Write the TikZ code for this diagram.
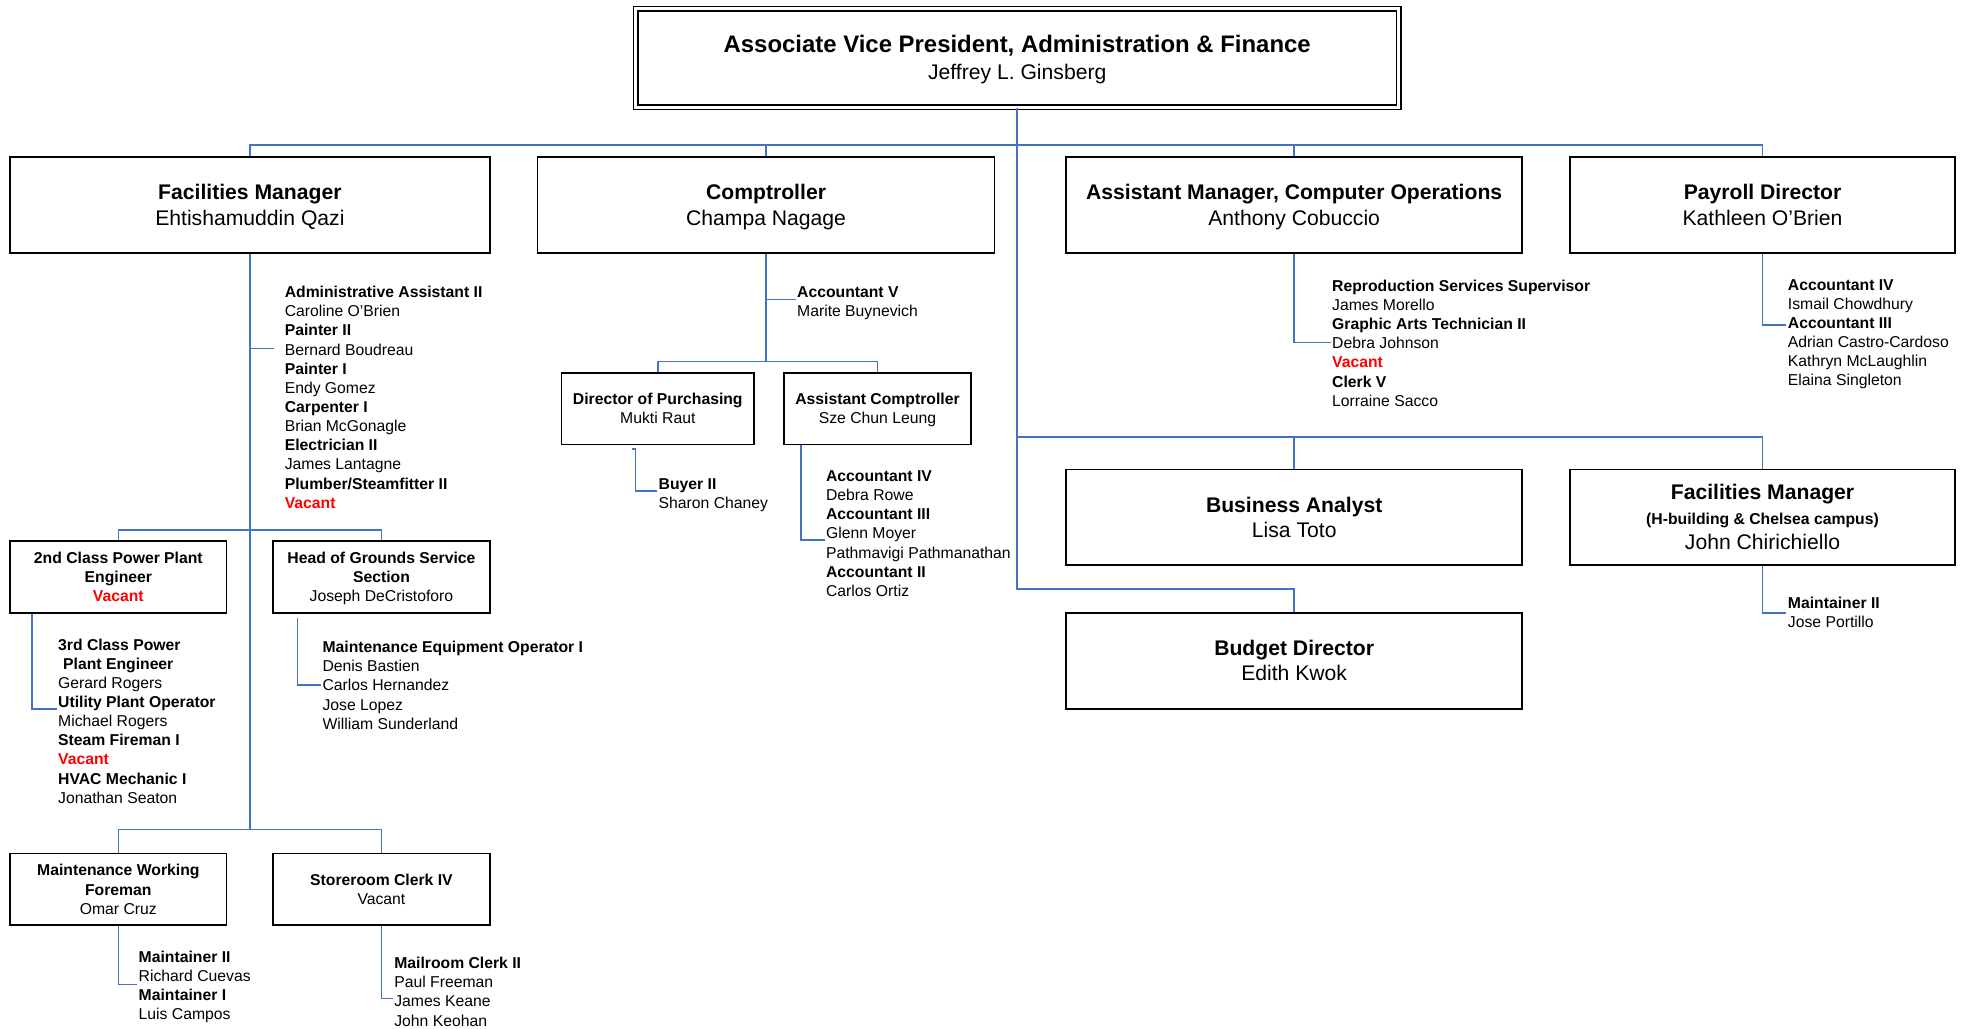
\documentclass[tikz,border=0pt]{standalone}
\usepackage{fontspec}
\setmainfont{Liberation Sans}
\definecolor{linkblue}{RGB}{68,114,196}
\definecolor{vacred}{RGB}{255,0,0}
\newcommand\fTop{\fontsize{19}{22}\selectfont}
\newcommand\fMid{\fontsize{16.8}{20}\selectfont}
\newcommand\fSm{\fontsize{12.5}{15.2}\selectfont}
\newcommand\hd[1]{\textbf{#1}}
\newcommand\vac{{\color{vacred}\bfseries Vacant}}
% first-line struts for the framed boxes
\newcommand\headtop{\rule{0pt}{17.5pt}}
\newcommand\unittop{\rule{0pt}{13.5pt}}

\begin{document}
\begin{tikzpicture}[x=1pt,y=-1pt,
  frame/.style={draw=black,line width=1.4pt,fill=white,inner sep=0pt,align=center},
  headbox/.style={frame,minimum width=#1,minimum height=76pt,font=\fMid},
  unitbox/.style={frame,minimum width=#1,minimum height=57pt,font=\fSm},
  roster/.style={anchor=north west,inner sep=0pt,align=left,font=\fSm},
  link/.style={draw=linkblue,line width=1.2pt},
]
\useasboundingbox (0,0) rectangle (1568,817);

% ---------- junction points ----------
\coordinate (j1) at (808,115);
\coordinate (j2) at (808,347);
\coordinate (jb) at (808,468);
\coordinate (fms) at (198.5,277);
\coordinate (fma) at (198.5,421);
\coordinate (fmb) at (198.5,659);
\coordinate (cos) at (608.5,238);
\coordinate (coa) at (608.5,287);
% roster ends of the short branches
\coordinate (fmend) at (218,277);
\coordinate (ppend) at (45,563);
\coordinate (grend) at (255,544);
\coordinate (mwend) at (109,782);
\coordinate (srend) at (312,793);
\coordinate (coend) at (632,238);
\coordinate (dpend) at (522,390);
\coordinate (acend) at (655,429);
\coordinate (cpend) at (1057,272);
\coordinate (prend) at (1419,258);
\coordinate (fm2end) at (1419,487);

% ---------- top of the chart ----------
\node[draw=black,line width=1.2pt,double=white,double distance=2.4pt,
      minimum width=606pt,minimum height=78pt,inner sep=0pt,align=center,
      font=\fontsize{16.8}{22}\selectfont] (avp) at (808,46)
  {\rule{0pt}{19pt}{\fTop\bfseries Associate Vice President, Administration \& Finance}\\Jeffrey L. Ginsberg\rule[-6pt]{0pt}{6pt}};

% ---------- first row of managers ----------
\node[headbox=381pt] (fm) at (198.5,163) {\headtop\hd{Facilities Manager}\\Ehtishamuddin Qazi\strut};
\node[headbox=363pt] (co) at (608.5,163) {\headtop\hd{Comptroller}\\Champa Nagage\strut};
\node[headbox=362pt] (cp) at (1028,163) {\headtop\hd{Assistant Manager, Computer Operations}\\Anthony Cobuccio\strut};
\node[headbox=306pt] (pr) at (1400,163) {\headtop\hd{Payroll Director}\\Kathleen O’Brien\strut};

% ---------- second and third rows, right side ----------
\node[headbox=362pt] (ba) at (1028,411) {\headtop\hd{Business Analyst}\\Lisa Toto\strut};
\node[headbox=306pt] (fm2) at (1400,411)
  {\headtop\hd{Facilities Manager}\\{\fontsize{12.5}{20}\selectfont\hd{(H-building \& Chelsea campus)}}\\John Chirichiello\strut};
\node[headbox=362pt] (budget) at (1028,525) {\headtop\hd{Budget Director}\\Edith Kwok\strut};

% ---------- smaller unit boxes ----------
\node[unitbox=172pt] (pp) at (94,458.5) {\unittop\hd{2nd Class Power Plant}\\\hd{Engineer}\\\vac\strut};
\node[unitbox=172pt] (gr) at (303,458.5) {\unittop\hd{Head of Grounds Service}\\\hd{Section}\\Joseph DeCristoforo\strut};
\node[unitbox=172pt] (mw) at (94,706.5) {\unittop\hd{Maintenance Working}\\\hd{Foreman}\\Omar Cruz\strut};
\node[unitbox=172pt] (sr) at (303,706.5) {\unittop\hd{Storeroom Clerk IV}\\Vacant\strut};
\node[unitbox=153pt] (dp) at (522.5,324.5) {\unittop\hd{Director of Purchasing}\\Mukti Raut\strut};
\node[unitbox=148pt] (ac) at (697,324.5) {\unittop\hd{Assistant Comptroller}\\Sze Chun Leung\strut};

% ---------- staff rosters ----------
\node[roster] (fmlist) at (226,225.6) {\strut\hd{Administrative Assistant II}\\Caroline O’Brien\\\hd{Painter II}\\Bernard Boudreau\\\hd{Painter I}\\Endy Gomez\\\hd{Carpenter I}\\Brian McGonagle\\\hd{Electrician II}\\James Lantagne\\\hd{Plumber/Steamfitter II}\\\vac\strut};
\node[roster] (pplist) at (46,505.6) {\strut\hd{3rd Class Power}\\\hspace*{4pt}\hd{Plant Engineer}\\Gerard Rogers\\\hd{Utility Plant Operator}\\Michael Rogers\\\hd{Steam Fireman I}\\\vac\\\hd{HVAC Mechanic I}\\Jonathan Seaton};
\node[roster] (grlist) at (256,507.6) {\strut\hd{Maintenance Equipment Operator I}\\Denis Bastien\\Carlos Hernandez\\Jose Lopez\\William Sunderland};
\node[roster] (mwlist) at (110,753.6) {\strut\hd{Maintainer II}\\Richard Cuevas\\\hd{Maintainer I}\\Luis Campos};
\node[roster] (srlist) at (313,758.6) {\strut\hd{Mailroom Clerk II}\\Paul Freeman\\James Keane\\John Keohan};
\node[roster] (colist) at (633,225.6) {\strut\hd{Accountant V}\\Marite Buynevich};
\node[roster] (bylist) at (523,377.6) {\strut\hd{Buyer II}\\Sharon Chaney};
\node[roster] (aclist) at (656,371.6) {\strut\hd{Accountant IV}\\Debra Rowe\\\hd{Accountant III}\\Glenn Moyer\\Pathmavigi Pathmanathan\\\hd{Accountant II}\\Carlos Ortiz};
\node[roster] (cplist) at (1058,220.6) {\strut\hd{Reproduction Services Supervisor}\\James Morello\\\hd{Graphic Arts Technician II}\\Debra Johnson\\\vac\\\hd{Clerk V}\\Lorraine Sacco};
\node[roster] (prlist) at (1420,219.6) {\strut\hd{Accountant IV}\\Ismail Chowdhury\\\hd{Accountant III}\\Adrian Castro-Cardoso\\Kathryn McLaughlin\\Elaina Singleton};
\node[roster] (fm2list) at (1420,472.6) {\strut\hd{Maintainer II}\\Jose Portillo};

% ---------- connectors ----------
\begin{scope}[color=linkblue]
\draw[link] (avp.south) -- (jb) -| (budget.north);
\draw[link] (j1) -| (fm.north);
\draw[link] (j1) -| (co.north);
\draw[link] (j1) -| (cp.north);
\draw[link] (j1) -| (pr.north);
\draw[link] (j2) -| (ba.north);
\draw[link] (j2) -| (fm2.north);

\draw[link] (fm.south) -- (fmb);
\draw[link] (fms) -- (fmend);
\draw[link] (fma) -| (pp.north);
\draw[link] (fma) -| (gr.north);
\draw[link] (fmb) -| (mw.north);
\draw[link] (fmb) -| (sr.north);
\draw[link] ([xshift=18pt]pp.south west) |- (ppend);
\draw[link] ([xshift=20pt,yshift=-3pt]gr.south west) |- (grend);
\draw[link] (mw.south) |- (mwend);
\draw[link] (sr.south) |- (srend);

\draw[link] (co.south) -- (coa);
\draw[link] (cos) -- (coend);
\draw[link] (coa) -| (dp.north);
\draw[link] (coa) -| (ac.north);
\draw[link] ([xshift=57pt,yshift=-3pt]dp.south west) -- ++(2.5,0) |- (dpend);
\draw[link] ([xshift=14pt]ac.south west) |- (acend);

\draw[link] (cp.south) |- (cpend);
\draw[link] (pr.south) |- (prend);
\draw[link] (fm2.south) |- (fm2end);
\end{scope}
\end{tikzpicture}
\end{document}
